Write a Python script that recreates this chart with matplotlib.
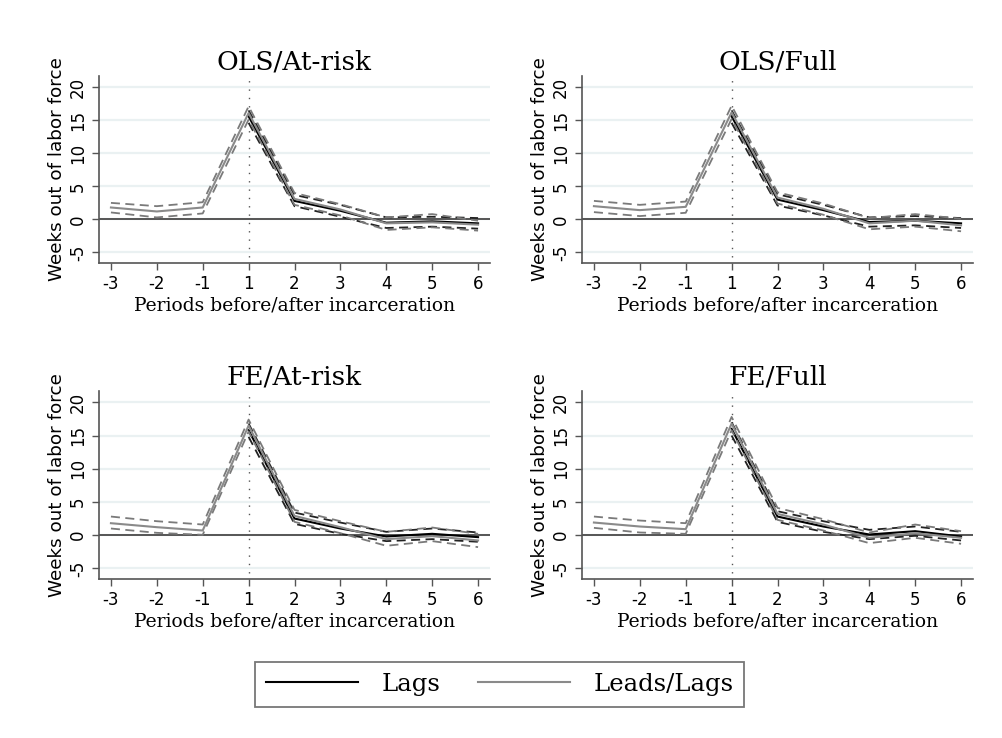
import matplotlib
matplotlib.use("Agg")
import matplotlib.pyplot as plt
from matplotlib.lines import Line2D

periods = ["-3", "-2", "-1", "1", "2", "3", "4", "5", "6"]
lag_periods = ["1", "2", "3", "4", "5", "6"]

titles = ["OLS/At-risk", "OLS/Full", "FE/At-risk", "FE/Full"]

# Leads/Lags (gray) estimates and CIs, periods -3..6
leadlag_est = [
    [1.8, 1.2, 1.8, 16.1, 3.1, 1.5, -0.6, -0.45, -0.8],
    [2.0, 1.4, 1.9, 16.2, 3.3, 1.6, -0.6, -0.2, -0.9],
    [1.8, 1.2, 0.7, 16.5, 2.9, 1.2, -0.6, -0.15, -0.8],
    [1.9, 1.3, 0.9, 16.8, 3.2, 1.6, -0.4, 0.3, -0.4],
]
leadlag_hi = [
    [2.5, 2.0, 2.6, 17.1, 4.0, 2.3, 0.3, 0.8, -0.2],
    [2.8, 2.2, 2.7, 17.2, 4.1, 2.4, 0.2, 0.8, 0.1],
    [2.8, 2.1, 1.6, 17.4, 3.8, 2.1, 0.5, 1.15, 0.2],
    [2.8, 2.2, 1.8, 17.8, 4.1, 2.4, 0.4, 1.6, 0.6],
]
leadlag_lo = [
    [1.05, 0.3, 0.9, 15.1, 2.2, 0.6, -1.6, -1.2, -1.7],
    [1.1, 0.5, 1.0, 15.2, 2.4, 0.7, -1.5, -1.1, -1.8],
    [1.0, 0.35, 0.05, 15.6, 2.0, 0.3, -1.6, -0.9, -1.8],
    [1.1, 0.4, 0.2, 15.8, 2.3, 0.7, -1.2, -0.4, -1.3],
]

# Lags (black) estimates and CIs, periods 1..6
lag_est = [
    [15.6, 2.8, 1.3, -0.5, -0.3, -0.6],
    [15.6, 3.0, 1.4, -0.4, -0.2, -0.6],
    [15.8, 2.5, 1.0, -0.2, 0.2, -0.3],
    [16.0, 2.8, 1.3, 0.1, 0.6, -0.2],
]
lag_hi = [
    [16.5, 3.7, 2.2, 0.3, 0.4, 0.2],
    [16.5, 3.8, 2.2, 0.3, 0.5, 0.2],
    [16.8, 3.4, 1.9, 0.5, 1.0, 0.4],
    [17.0, 3.6, 2.1, 0.8, 1.3, 0.5],
]
lag_lo = [
    [14.6, 2.0, 0.4, -1.3, -1.1, -1.4],
    [14.6, 2.1, 0.6, -1.1, -0.9, -1.3],
    [14.8, 1.7, 0.2, -0.9, -0.6, -1.0],
    [15.0, 2.0, 0.5, -0.6, -0.1, -0.8],
]

yticks = [-5, 0, 5, 10, 15, 20]

W, H = 1003, 738
fig = plt.figure(figsize=(W / 100, H / 100), dpi=100)

# axes boxes in pixels: left, top, right, bottom
boxes = [
    (99, 76, 490, 263),
    (582, 76, 973, 263),
    (99, 391, 490, 579),
    (582, 391, 973, 579),
]

GRAY = "#8a8a8a"
GRAYD = "#7a7a7a"
AXC = "#555555"
serif = "DejaVu Serif"
sans = "DejaVu Sans"

xpos = list(range(len(periods)))
lag_x = [periods.index(p) for p in lag_periods]

for i, (l, t, r, b) in enumerate(boxes):
    ax = fig.add_axes([l / W, 1 - b / H, (r - l) / W, (b - t) / H])
    ax.set_xlim(-0.26, len(periods) - 1 + 0.26)
    ax.set_ylim(-6.6, 21.7)
    for yv in yticks:
        ax.axhline(yv, color="#eaf1f2", lw=1.6, zorder=0)
    ax.axhline(0, color="#555555", lw=1.4, zorder=1)
    ax.axvline(lag_x[0], ymin=0.03, ymax=0.98, color="#555555", lw=1.0,
               linestyle=(0, (1, 5)), zorder=1)

    # Lags (black)
    ax.plot(lag_x, lag_est[i], color="black", lw=1.5, zorder=3)
    for arr in (lag_hi[i], lag_lo[i]):
        ax.plot(lag_x, arr, color="#222222", lw=1.3, dashes=(5, 3), zorder=3)
    # Leads/Lags (gray)
    ax.plot(xpos, leadlag_est[i], color=GRAY, lw=1.5, zorder=4)
    for arr in (leadlag_hi[i], leadlag_lo[i]):
        ax.plot(xpos, arr, color=GRAYD, lw=1.3, dashes=(5, 3), zorder=4)

    ax.set_xticks(xpos)
    ax.set_xticklabels(periods, fontfamily=sans, fontsize=12)
    ax.set_yticks(yticks)
    ax.set_yticklabels([str(v) for v in yticks], fontfamily=sans, fontsize=12,
                       rotation=90, va="center")
    ax.tick_params(axis="both", direction="out", length=5, width=1,
                   color=AXC, pad=3.5)
    for s in ("top", "right"):
        ax.spines[s].set_visible(False)
    for s in ("left", "bottom"):
        ax.spines[s].set_color(AXC)
        ax.spines[s].set_linewidth(1.2)
    ax.set_xlabel("Periods before/after incarceration", fontfamily=serif,
                  fontsize=13.5, labelpad=3)
    ax.set_ylabel("Weeks out of labor force", fontfamily=sans, fontsize=13.2,
                  labelpad=2)
    ax.set_title(titles[i], fontfamily=serif, fontsize=19, pad=5)

handles = [Line2D([], [], color="black", lw=1.5),
           Line2D([], [], color=GRAY, lw=1.5)]
leg = fig.legend(handles, ["Lags", "Leads/Lags"], loc="center",
                 bbox_to_anchor=(499.5 / W, 1 - 684.5 / H), ncol=2,
                 prop={"family": serif, "size": 17.5}, handlelength=3.8,
                 columnspacing=1.55, handletextpad=0.95, frameon=True,
                 fancybox=False, borderpad=0.45)
leg.get_frame().set_edgecolor("#555555")
leg.get_frame().set_linewidth(1.3)

fig.savefig("out.png", dpi=100)
